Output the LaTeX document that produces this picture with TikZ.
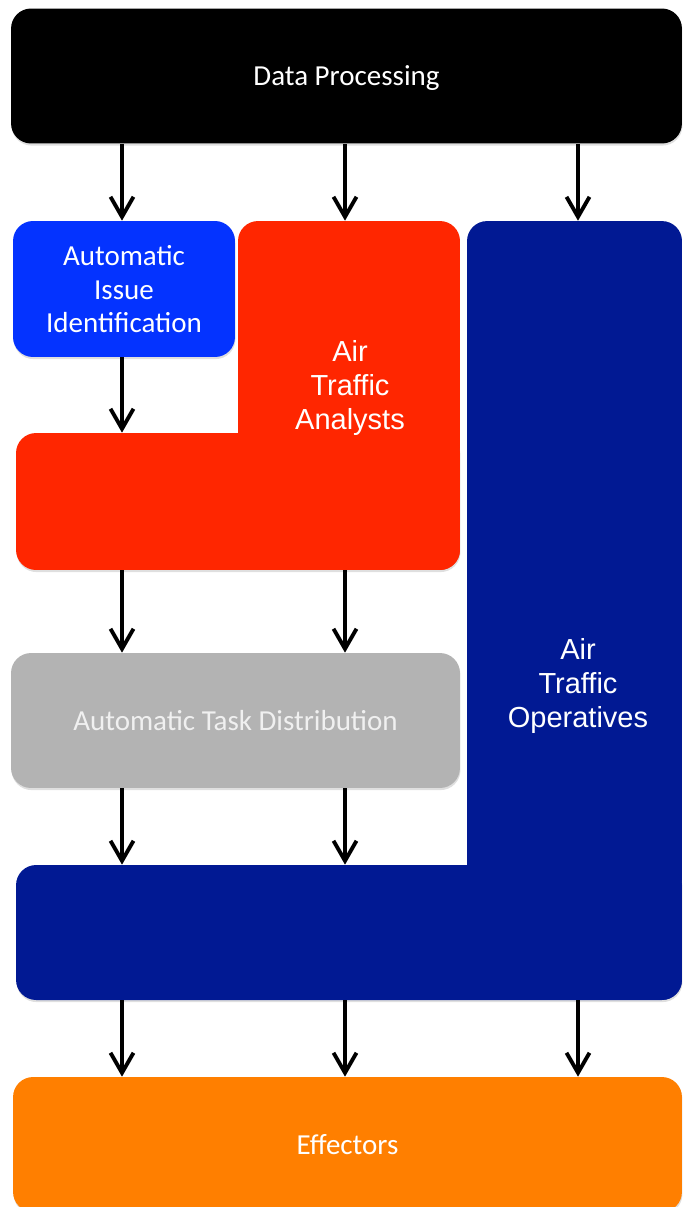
\documentclass[tikz,border=0pt]{standalone}
\usepackage{fontspec}
\setmainfont{Carlito}
\newfontfamily\helv{Liberation Sans}
\usetikzlibrary{arrows.meta,shadows}
\definecolor{issueblue}{HTML}{0433FF}
\definecolor{analystred}{HTML}{FF2600}
\definecolor{operativeblue}{HTML}{011993}
\definecolor{taskgray}{HTML}{B3B3B3}
\definecolor{textgray}{HTML}{F0F0F0}
\definecolor{effectororange}{HTML}{FF7F00}

\begin{document}
\begin{tikzpicture}[
    x=0.02cm,
    y=-0.02cm,
    box/.style={
        rectangle,
        rounded corners=0.4cm,
        inner sep=0pt,
        text=white,
        text depth=0pt,
        align=center,
        font=\fontsize{16.5}{19.3}\selectfont
    },
    shade box/.style={
        box,
        drop shadow={shadow xshift=0.3pt, shadow yshift=-1.2pt, opacity=0.25}
    },
    label/.style={
        text=white,
        align=center,
        font=\helv\fontsize{16.5}{19.3}\selectfont
    },
    arrow/.style={
        -{Straight Barb[length=4mm, width=4.6mm]},
        line width=2.2pt
    }
]
\useasboundingbox (0,0) rectangle (683,1207);

% Columns of the arrows
\coordinate (c1) at (122,0);
\coordinate (c2) at (345,0);
\coordinate (c3) at (578,0);

% Boxes
\node [shade box, fill=black, minimum width=13.42cm, minimum height=2.7cm] (dp) at (346.5,76) {Data Processing};
\node [shade box, fill=issueblue, minimum width=4.44cm, minimum height=2.72cm] (aii) at (124,289) {Automatic\\Issue\\Identification};
\node [box, fill=analystred, minimum width=4.44cm, minimum height=6.98cm] (ata-top) at (349,395.5) {};
\node [shade box, fill=analystred, minimum width=8.88cm, minimum height=2.74cm] (ata-low) at (238,501.5) {};
\node [label] (ata) at (350,388) {Air\\Traffic\\Analysts};
\node [box, fill=operativeblue, minimum width=4.3cm, minimum height=15.58cm] (ato-top) at (574.5,610.5) {};
\node [shade box, fill=operativeblue, minimum width=13.32cm, minimum height=2.7cm] (ato-low) at (349,932.5) {};
\node [label] (ato) at (578,686) {Air\\Traffic\\Operatives};
\node [shade box, fill=taskgray, text=textgray, minimum width=8.98cm, minimum height=2.7cm] (atd) at (235.5,720.5) {Automatic Task Distribution};
\node [shade box, fill=effectororange, minimum width=13.38cm, minimum height=2.7cm] (eff) at (347.5,1144.5) {Effectors};

% Arrows
\draw [arrow] (dp.south -| c1) -- (aii.north -| c1);
\draw [arrow] (dp.south -| c2) -- (ata-top.north -| c2);
\draw [arrow] (dp.south -| c3) -- (ato-top.north -| c3);
\draw [arrow] (aii.south -| c1) -- (ata-low.north -| c1);
\draw [arrow] (ata-low.south -| c1) -- (atd.north -| c1);
\draw [arrow] (ata-low.south -| c2) -- (atd.north -| c2);
\draw [arrow] (atd.south -| c1) -- (ato-low.north -| c1);
\draw [arrow] (atd.south -| c2) -- (ato-low.north -| c2);
\draw [arrow] (ato-low.south -| c1) -- (eff.north -| c1);
\draw [arrow] (ato-low.south -| c2) -- (eff.north -| c2);
\draw [arrow] (ato-low.south -| c3) -- (eff.north -| c3);

\end{tikzpicture}
\end{document}
